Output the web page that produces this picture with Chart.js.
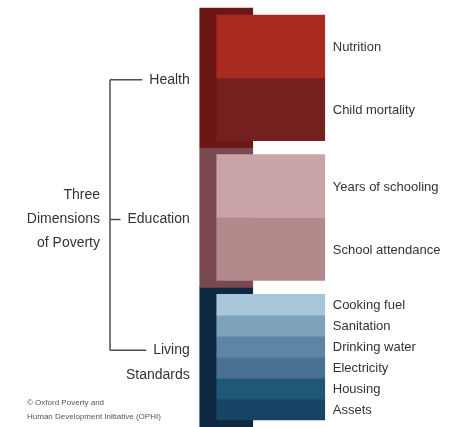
<!DOCTYPE html>
<html>
<head>
<meta charset="utf-8">
<script src="https://cdn.jsdelivr.net/npm/chart.js@4.4.0/dist/chart.umd.min.js"></script>
<style>
  body { margin: 0; background: #fff; }
</style>
</head>
<body>
<canvas id="mpiChart" width="457" height="427"></canvas>
<script>
// MPI structure: 3 dimensions, 10 indicators (weights)
const dimensions = ['Health', 'Education', 'Living Standards'];
const dimensionWeights = [1 / 3, 1 / 3, 1 / 3];
const indicators = ['Nutrition', 'Child mortality', 'Years of schooling', 'School attendance',
  'Cooking fuel', 'Sanitation', 'Drinking water', 'Electricity', 'Housing', 'Assets'];
const indicatorDimension = [0, 0, 1, 1, 2, 2, 2, 2, 2, 2];
const indicatorWeights = [1 / 6, 1 / 6, 1 / 6, 1 / 6, 1 / 18, 1 / 18, 1 / 18, 1 / 18, 1 / 18, 1 / 18];
const titleLines = ['Three', 'Dimensions', 'of Poverty'];
const creditLines = ['© Oxford Poverty and', 'Human Development Initiative (OPHI)'];

const dimensionColors = ['#6c1715', '#7a4950', '#0f2841'];
const indicatorColors = ['#a92a1f', '#74201f', '#c9a3a7', '#b28a8b',
  '#a9c5d9', '#7fa2bc', '#5e85a4', '#4a7092', '#1f5777', '#174465'];

const FONT = '"Liberation Sans", Arial, sans-serif';
const INSET = 0.0166;   // gap between a dimension edge and its indicators (value units)
const BRACKET_X = 110;

// floating ranges from the weights
const dimRanges = [];
let acc = 0;
dimensionWeights.forEach(w => { dimRanges.push([acc, acc + w]); acc += w; });

const indRanges = [];
const used = dimensions.map(() => 0);
indicatorWeights.forEach((w, i) => {
  const d = indicatorDimension[i];
  const [s, e] = dimRanges[d];
  const k = ((e - s) - 2 * INSET) / dimensionWeights[d];
  const start = s + INSET + used[d] * k;
  used[d] += w;
  indRanges.push([start, start + w * k]);
});

const datasets = [];
indicators.forEach((name, i) => {
  datasets.push({
    label: name,
    data: [null, indRanges[i]],
    backgroundColor: indicatorColors[i],
    barThickness: 108,
    grouped: false,
    clip: false,
    order: 0
  });
});
dimensions.forEach((name, d) => {
  datasets.push({
    label: name,
    data: [dimRanges[d], null],
    backgroundColor: dimensionColors[d],
    barThickness: 53,
    grouped: false,
    clip: false,
    order: 1
  });
});

const textPlugin = {
  id: 'mpiText',
  afterDatasetsDraw(chart) {
    const ctx = chart.ctx;
    const yScale = chart.scales.y;
    ctx.save();
    ctx.fillStyle = '#333';
    ctx.textBaseline = 'middle';

    // indicator names, right of the bars
    ctx.font = '13px ' + FONT;
    ctx.textAlign = 'left';
    indicators.forEach((name, i) => {
      const bar = chart.getDatasetMeta(i).data[1];
      const mid = (indRanges[i][0] + indRanges[i][1]) / 2;
      ctx.fillText(name, bar.x + bar.width / 2 + 8, yScale.getPixelForValue(mid) + 1);
    });

    // dimension names, left of the bars, with bracket ticks
    ctx.font = '14px ' + FONT;
    ctx.textAlign = 'right';
    ctx.strokeStyle = '#4a4a4a';
    ctx.lineWidth = 1.5;
    const tickYs = [];
    dimensions.forEach((name, d) => {
      const bar = chart.getDatasetMeta(indicators.length + d).data[0];
      const right = bar.x - bar.width / 2 - 10;
      const mid = yScale.getPixelForValue((dimRanges[d][0] + dimRanges[d][1]) / 2);
      const words = name.split(' ');
      const lineH = 25;
      const y0 = words.length > 1 ? mid - 7 : mid + 2;
      words.forEach((w, j) => ctx.fillText(w, right, y0 + j * lineH));
      const textLeft = right - ctx.measureText(words[0]).width;
      ctx.beginPath();
      ctx.moveTo(BRACKET_X, y0);
      ctx.lineTo(textLeft - 7, y0);
      ctx.stroke();
      tickYs.push(y0);
    });
    ctx.beginPath();
    ctx.moveTo(BRACKET_X, tickYs[0]);
    ctx.lineTo(BRACKET_X, tickYs[tickYs.length - 1]);
    ctx.stroke();

    // title
    titleLines.forEach((t, j) => {
      ctx.fillText(t, BRACKET_X - 10, tickYs[1] + (j - 1) * 24);
    });

    // credit
    ctx.font = '8px ' + FONT;
    ctx.textAlign = 'left';
    ctx.fillStyle = '#555';
    creditLines.forEach((t, j) => ctx.fillText(t, 27, chart.height - 24 + j * 14));
    ctx.restore();
  }
};

const ctx = document.getElementById('mpiChart').getContext('2d');
new Chart(ctx, {
  type: 'bar',
  data: { labels: ['dimension', 'indicator'], datasets: datasets },
  options: {
    responsive: false,
    animation: false,
    layout: { padding: { left: 204, right: 164, top: 8, bottom: -3 } },
    plugins: { legend: { display: false }, tooltip: { enabled: false } },
    scales: {
      x: { display: false },
      y: { min: 0, max: 1, reverse: true, display: false }
    }
  },
  plugins: [textPlugin]
});
</script>
</body>
</html>
